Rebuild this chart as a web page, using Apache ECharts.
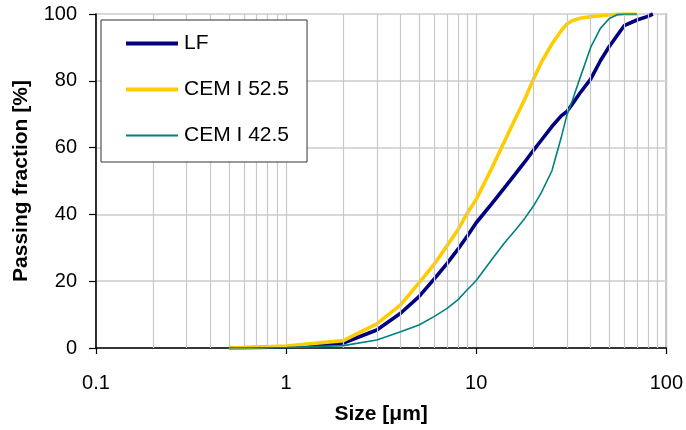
<!DOCTYPE html>
<html>
<head>
<meta charset="utf-8">
<script src="https://cdn.jsdelivr.net/npm/echarts@6/dist/echarts.min.js"></script>
<style>html,body{margin:0;padding:0;background:#fff}#c{width:686px;height:430px}</style>
</head>
<body>
<div id="c"></div>
<script>
// Particle size (µm)
var sizes = [0.5, 1, 2, 3, 4, 5, 6, 7, 8, 9, 10, 12, 14, 16, 18, 20, 22, 25, 28, 30, 32, 35, 40, 45, 50, 55, 60, 70, 80, 85];
// Passing fraction (%)
var lf      = [0, 0.3, 1.5, 5.4, 10.4, 15.4, 20.6, 25.2, 29.5, 33.6, 37.5, 43, 47.8, 52, 55.7, 59.2, 62.2, 66.3, 69.5, 70.8, 73, 76.2, 80.5, 86, 90.2, 93.5, 96.5, 98.2, 99.3, 100];
var cem525  = [0, 0.6, 2.2, 7.2, 12.9, 19.5, 25, 30.5, 35.3, 40.5, 44.5, 53.5, 61.5, 68.5, 74.5, 80.5, 85.5, 91, 95, 97, 98, 98.7, 99.2, 99.5, 99.7, 99.9, 100, 100, null, null];
var cem425  = [0, 0.1, 0.7, 2.4, 4.9, 6.9, 9.4, 11.8, 14.4, 17.5, 20.2, 26.3, 31.3, 35.2, 38.8, 42.5, 46.5, 53, 63, 69.8, 74, 80.5, 90, 95.7, 98.6, 99.8, 100, 100, null, null];
var seriesNames = ['LF', 'CEM I 52.5', 'CEM I 42.5'];
var xTickLabels = [0.1, 1, 10, 100];
var minorGrid = [0.2,0.3,0.4,0.5,0.6,0.7,0.8,0.9,2,3,4,5,6,7,8,9,20,30,40,50,60,70,80,90];

function pairs(vals){
  var out = [];
  for (var i = 0; i < sizes.length; i++) if (vals[i] !== null) out.push([sizes[i], vals[i]]);
  return out;
}
var thick = 'path://M0,0L52,0L52,4L0,4Z';
var thin = 'path://M0,0L52,0L52,2L0,2Z';
var chart = echarts.init(document.getElementById('c'), null, {renderer:'canvas'});
var font = 'Liberation Sans, Arial, sans-serif';
chart.setOption({
  animation: false,
  backgroundColor: '#fff',
  grid: {left: 96, right: 19, top: 14, bottom: 82, show: true, borderColor: '#808080', borderWidth: 1.5, backgroundColor: 'transparent'},
  legend: {
    z: 20,
    data: [
      {name: seriesNames[0], icon: thick},
      {name: seriesNames[1], icon: thick},
      {name: seriesNames[2], icon: thin}
    ],
    orient: 'vertical', left: 101, top: 20,
    backgroundColor: '#fff', borderColor: '#333', borderWidth: 1,
    padding: [13, 18, 16, 25], itemGap: 25, itemWidth: 52, itemHeight: 14,
    textStyle: {fontFamily: font, fontSize: 21, color: '#000', padding: [0,0,0,1]}
  },
  xAxis: {
    type: 'log', logBase: 10, min: 0.1, max: 100,
    name: 'Size [\u03bcm]', nameLocation: 'middle', nameGap: 56,
    nameTextStyle: {fontFamily: font, fontSize: 21, fontWeight: 'bold', color: '#000'},
    axisLine: {show: true, onZero: false, lineStyle: {color: '#000', width: 1.5}},
    axisTick: {show: true, inside: false, length: 6, lineStyle: {color: '#000', width: 1.2}},
    axisLabel: {fontFamily: font, fontSize: 20, color: '#000', margin: 25,
      formatter: function(v){ return xTickLabels.indexOf(+v.toPrecision(3)) >= 0 ? String(+v.toPrecision(3)) : ''; }},
    splitLine: {show: true, lineStyle: {color: '#c8c8c8', width: 1.2}},
    minorTick: {show: false}, minorSplitLine: {show: false}
  },
  yAxis: {
    type: 'value', min: 0, max: 100, interval: 20,
    name: 'Passing fraction [%]', nameLocation: 'middle', nameGap: 64,
    nameTextStyle: {fontFamily: font, fontSize: 21, fontWeight: 'bold', color: '#000'},
    axisLine: {show: true, onZero: false, lineStyle: {color: '#000', width: 1.5}},
    axisTick: {show: true, inside: false, length: 7, lineStyle: {color: '#000', width: 1.2}},
    axisLabel: {fontFamily: font, fontSize: 20, color: '#000', margin: 19},
    splitLine: {show: true, lineStyle: {color: '#d9d9d9', width: 2}}
  },
  series: [
    {type: 'line', name: 'grid', data: [], silent: true, z: 1,
     markLine: {silent: true, symbol: 'none', animation: false, label: {show: false},
       lineStyle: {color: '#c8c8c8', width: 1.2, type: 'solid'},
       emphasis: {disabled: true},
       data: minorGrid.map(function(v){ return {xAxis: v}; })}},
    {type: 'line', name: seriesNames[0], data: pairs(lf), symbol: 'none', z: 3,
     lineStyle: {color: '#000080', width: 3.6}, itemStyle: {color: '#000080'}},
    {type: 'line', name: seriesNames[1], data: pairs(cem525), symbol: 'none', z: 4,
     lineStyle: {color: '#ffcc00', width: 3.6}, itemStyle: {color: '#ffcc00'}},
    {type: 'line', name: seriesNames[2], data: pairs(cem425), symbol: 'none', z: 5,
     lineStyle: {color: '#008080', width: 1.6}, itemStyle: {color: '#008080'}}
  ]
});
</script>
</body>
</html>
